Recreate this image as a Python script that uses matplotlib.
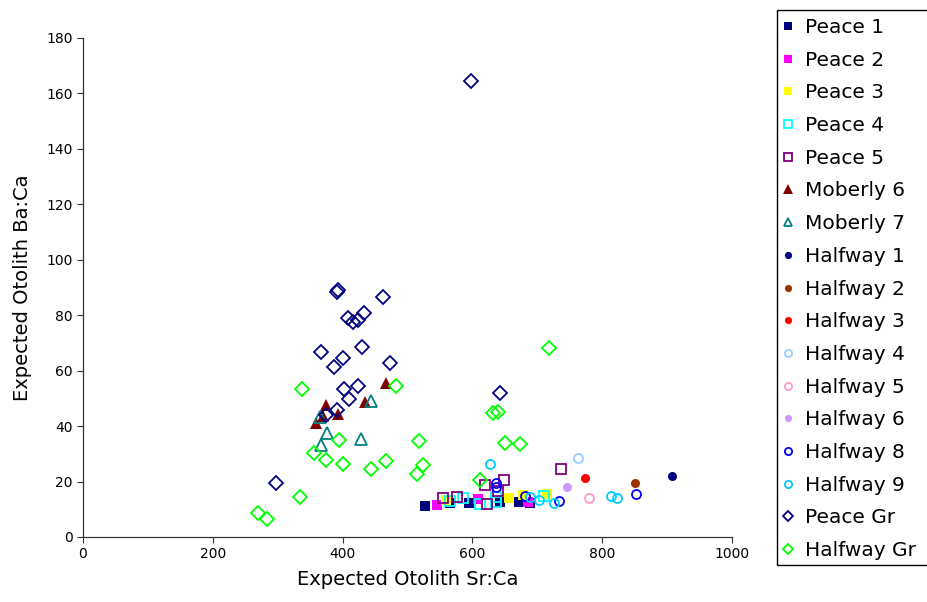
import matplotlib
matplotlib.use('Agg')
import matplotlib.pyplot as plt
from matplotlib.patches import Rectangle

# data (Sr:Ca, Ba:Ca)
peace1_x = [527, 565, 595, 643, 671, 689]
peace1_y = [11.0, 12.2, 12.4, 12.7, 12.7, 12.2]
peace2_x = [546, 609, 686]
peace2_y = [11.5, 13.6, 12.7]
peace3_x = [560, 657, 678, 715]
peace3_y = [13.4, 14.0, 15.2, 15.5]
peace4_x = [566, 586, 612, 636, 636, 711]
peace4_y = [13.1, 14.0, 11.9, 14.3, 12.7, 14.9]
peace5_x = [555, 577, 622, 619, 648, 640, 737]
peace5_y = [14.0, 14.5, 11.9, 18.8, 20.6, 16.6, 24.5]
moberly6_x = [467, 375, 359, 434, 393, 370]
moberly6_y = [55.4, 47.6, 41.0, 48.8, 44.4, 43.6]
moberly7_x = [443, 365, 376, 428, 367]
moberly7_y = [49.2, 43.4, 37.4, 35.4, 33.2]
halfway1_x = [908]
halfway1_y = [22.0]
halfway2_x = [851]
halfway2_y = [19.6]
halfway3_x = [774]
halfway3_y = [21.4]
halfway4_x = [762]
halfway4_y = [28.6]
halfway5_x = [780]
halfway5_y = [14.0]
halfway6_x = [746]
halfway6_y = [17.9]
halfway8_x = [636, 636, 681, 733, 852]
halfway8_y = [19.6, 17.9, 14.9, 13.0, 15.5]
halfway9_x = [627, 689, 702, 726, 813, 822]
halfway9_y = [26.2, 14.5, 13.3, 12.4, 14.9, 14.0]
peacegr_x = [598, 391, 393, 462, 408, 416, 424, 433, 367, 430, 401, 387,
             473, 423, 402, 410, 392, 375, 643, 297]
peacegr_y = [164.5, 88.5, 89.1, 86.7, 79.1, 77.7, 78.3, 80.9, 66.8, 68.6,
             64.7, 61.4, 62.7, 54.5, 53.3, 49.8, 45.8, 43.9, 52.0, 19.5]
halfwaygr_x = [269, 284, 334, 356, 337, 374, 395, 400, 443, 467, 482, 514,
               517, 524, 612, 632, 640, 650, 673, 718]
halfwaygr_y = [8.5, 6.5, 14.5, 30.4, 53.4, 27.8, 35.0, 26.3, 24.4, 27.4,
               54.5, 22.6, 34.6, 26.0, 20.6, 44.6, 44.9, 33.8, 33.5, 68.2]

# label, x, y, marker, colour, filled, size
series = [
    ('Peace 1', peace1_x, peace1_y, 's', '#000080', True, 6.5),
    ('Peace 2', peace2_x, peace2_y, 's', '#FF00FF', True, 6.5),
    ('Peace 3', peace3_x, peace3_y, 's', '#FFFF00', True, 6.5),
    ('Peace 4', peace4_x, peace4_y, 's', '#00FFFF', False, 6.5),
    ('Peace 5', peace5_x, peace5_y, 's', '#800080', False, 6.5),
    ('Moberly 6', moberly6_x, moberly6_y, '^', '#800000', True, 8.5),
    ('Moberly 7', moberly7_x, moberly7_y, '^', '#008080', False, 8.0),
    ('Halfway 1', halfway1_x, halfway1_y, 'o', '#000080', True, 6.5),
    ('Halfway 2', halfway2_x, halfway2_y, 'o', '#993300', True, 6.5),
    ('Halfway 3', halfway3_x, halfway3_y, 'o', '#FF0000', True, 6.5),
    ('Halfway 4', halfway4_x, halfway4_y, 'o', '#99CCFF', False, 6.5),
    ('Halfway 5', halfway5_x, halfway5_y, 'o', '#FF99CC', False, 6.5),
    ('Halfway 6', halfway6_x, halfway6_y, 'o', '#CC99FF', True, 6.5),
    ('Halfway 8', halfway8_x, halfway8_y, 'o', '#0000FF', False, 6.5),
    ('Halfway 9', halfway9_x, halfway9_y, 'o', '#00CCFF', False, 6.5),
    ('Peace Gr', peacegr_x, peacegr_y, 'D', '#000080', False, 7.0),
    ('Halfway Gr', halfwaygr_x, halfwaygr_y, 'D', '#00FF00', False, 7.0),
]

plt.rcParams['font.family'] = 'DejaVu Sans'

fig = plt.figure(figsize=(9.27, 6.02), dpi=100)
ax = fig.add_axes([0.0895, 0.108, 0.7002, 0.829])

handles = []
for label, xs, ys, mk, col, filled, ms in series:
    face = col if filled else 'none'
    ln, = ax.plot(xs, ys, linestyle='none', marker=mk, markersize=ms,
                  markerfacecolor=face, markeredgecolor=col,
                  markeredgewidth=0 if filled else 1.3, label=label)
    handles.append(ln)

ax.set_xlim(0, 1000)
ax.set_ylim(0, 180)
ax.set_xticks(range(0, 1001, 200))
ax.set_yticks(range(0, 181, 20))
for s in ['top', 'right']:
    ax.spines[s].set_visible(False)
for s in ['left', 'bottom']:
    ax.spines[s].set_color('#333333')
    ax.spines[s].set_linewidth(0.9)
ax.tick_params(labelsize=10, length=4, color='#333333')
ax.set_xlabel('Expected Otolith Sr:Ca', fontsize=14, labelpad=6)
ax.set_ylabel('Expected Otolith Ba:Ca', fontsize=14, labelpad=10)

# legend box runs off the right edge in the original
fig.patches.append(Rectangle((777 / 927, 1 - 565 / 602), 0.6, 555 / 602,
                             transform=fig.transFigure, facecolor='white',
                             edgecolor='black', linewidth=1.0, zorder=0))
leg = fig.legend(handles=handles, loc='upper left',
                 bbox_to_anchor=(781 / 927, 1 - 18 / 602),
                 fontsize=14.5, frameon=False,
                 labelspacing=0.68, handlelength=0.7,
                 handletextpad=0.5, borderpad=0.0, borderaxespad=0,
                 markerscale=0.8)

fig.savefig('out.png', dpi=100)
